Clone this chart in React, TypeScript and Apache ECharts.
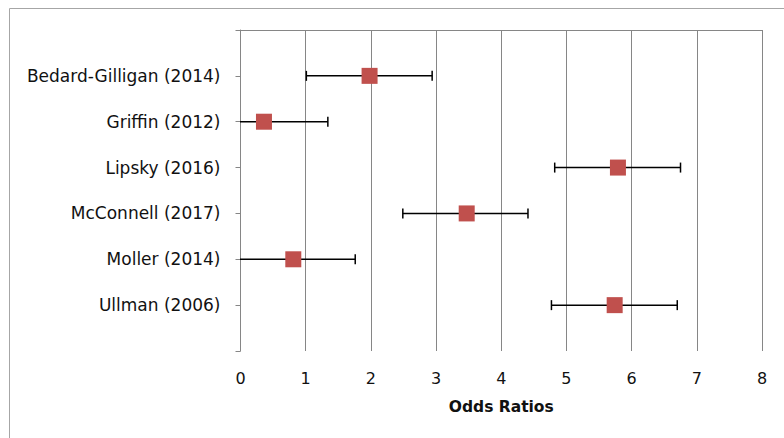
import React, { useEffect, useRef } from "react";
import * as echarts from "echarts";

const studies = [
  "Bedard-Gilligan (2014)",
  "Griffin (2012)",
  "Lipsky (2016)",
  "McConnell (2017)",
  "Moller (2014)",
  "Ullman (2006)",
];
const oddsRatios = [1.98, 0.36, 5.79, 3.47, 0.81, 5.74];
const lowerCI = [1.01, -0.62, 4.82, 2.49, -0.15, 4.77];
const upperCI = [2.94, 1.34, 6.75, 4.41, 1.76, 6.70];
const xTicks = [0, 1, 2, 3, 4, 5, 6, 7, 8];

const FONT = "DejaVu Sans";

export default function App() {
  const ref = useRef<HTMLDivElement>(null);
  useEffect(() => {
    const chart = echarts.init(ref.current!, null, { renderer: "svg" });
    const errData = studies.map((_, i) => [lowerCI[i], upperCI[i], i + 1]);
    const ptData = studies.map((_, i) => [oddsRatios[i], i + 1]);
    chart.setOption({
      animation: false,
      backgroundColor: "#ffffff",
      graphic: [
        {
          type: "rect",
          shape: { x: 9.5, y: 8.5, width: 800, height: 460 },
          style: { fill: "none", stroke: "#A6A6A6", lineWidth: 1 },
          silent: true,
          z: -1,
        },
      ],
      grid: { left: 240.5, right: 22, top: 30, bottom: 87, containLabel: false },
      xAxis: {
        type: "value",
        min: xTicks[0],
        max: xTicks[xTicks.length - 1],
        interval: 1,
        name: "Odds Ratios",
        nameLocation: "middle",
        nameGap: 48,
        nameTextStyle: { fontFamily: FONT, fontSize: 15.5, fontWeight: "bold", color: "#111" },
        axisLine: { show: true, lineStyle: { color: "#868686", width: 1 } },
        axisTick: { show: true, inside: false, length: 5, lineStyle: { color: "#868686" } },
        axisLabel: { fontFamily: FONT, fontSize: 16, color: "#111", margin: 19 },
        splitLine: { show: true, lineStyle: { color: "#868686", width: 1 } },
      },
      yAxis: {
        type: "value",
        min: 0,
        max: studies.length + 1,
        interval: 1,
        inverse: true,
        axisLine: { show: true, lineStyle: { color: "#868686", width: 1 } },
        axisTick: { show: true, inside: false, length: 5, lineStyle: { color: "#868686" } },
        axisLabel: {
          fontFamily: FONT,
          fontSize: 17,
          color: "#111",
          margin: 20,
          formatter: (v: number) => studies[v - 1] || "",
        },
        splitLine: { show: false },
      },
      series: [
        {
          type: "custom",
          data: errData,
          clip: true,
          z: 2,
          renderItem: (params: any, api: any) => {
            const lo = api.coord([api.value(0), api.value(2)]);
            const hi = api.coord([api.value(1), api.value(2)]);
            const h = 5;
            const style = { stroke: "#000", lineWidth: 1.5 };
            return {
              type: "group",
              children: [
                { type: "line", shape: { x1: lo[0], y1: lo[1], x2: hi[0], y2: hi[1] }, style },
                { type: "line", shape: { x1: lo[0], y1: lo[1] - h, x2: lo[0], y2: lo[1] + h }, style },
                { type: "line", shape: { x1: hi[0], y1: hi[1] - h, x2: hi[0], y2: hi[1] + h }, style },
              ],
            };
          },
        },
        {
          type: "scatter",
          data: ptData,
          symbol: "rect",
          symbolSize: 16,
          z: 3,
          itemStyle: { color: "#C0504D", opacity: 1 },
        },
      ],
    });
    return () => chart.dispose();
  }, []);
  return (
    <div
      ref={ref}
      style={{ position: "fixed", left: 0, top: 0, width: 784, height: 438 }}
    />
  );
}
